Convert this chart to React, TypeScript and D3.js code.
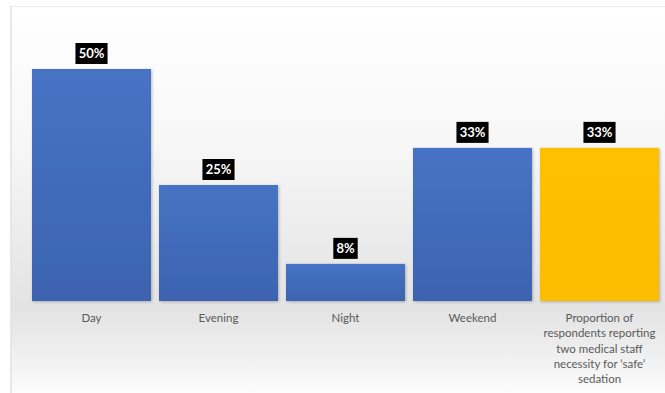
import React from "react";
import * as d3 from "d3";

const categories = [
  "Day",
  "Evening",
  "Night",
  "Weekend",
  "Proportion of respondents reporting two medical staff necessity for \u2018safe\u2019 sedation",
];
const categoryLines = [
  ["Day"],
  ["Evening"],
  ["Night"],
  ["Weekend"],
  ["Proportion of", "respondents reporting", "two medical staff", "necessity for \u2018safe\u2019", "sedation"],
];
const values = [50, 25, 8, 33, 33];
const labels = ["50%", "25%", "8%", "33%", "33%"];
const highlight = [false, false, false, false, true];

const W = 665;
const H = 393;

export default function App() {
  const x = d3.scaleBand<string>().domain(categories).range([32, 659]).paddingInner(0.063).paddingOuter(0);
  const y = d3.scaleLinear().domain([0, 50]).range([301, 69]);

  return (
    <svg width={W} height={H} style={{ position: "absolute", left: 0, top: 0 }} fontFamily="Lato, 'Open Sans', sans-serif">
      <defs>
        <linearGradient id="bg" x1="0" y1="0" x2="0" y2="1">
          <stop offset="0" stopColor="#ffffff" />
          <stop offset="0.35" stopColor="#f7f7f7" />
          <stop offset="0.78" stopColor="#e3e3e3" />
          <stop offset="0.88" stopColor="#ededed" />
          <stop offset="1" stopColor="#fcfcfc" />
        </linearGradient>
        <linearGradient id="blue" x1="0" y1="0" x2="0" y2="1">
          <stop offset="0" stopColor="#4773c4" />
          <stop offset="1" stopColor="#3c63b0" />
        </linearGradient>
        <linearGradient id="yellow" x1="0" y1="0" x2="0" y2="1">
          <stop offset="0" stopColor="#ffc000" />
          <stop offset="1" stopColor="#fcbc00" />
        </linearGradient>
        <filter id="shadow" x="-10%" y="-10%" width="120%" height="120%">
          <feDropShadow dx="1" dy="1" stdDeviation="1.5" floodColor="#000" floodOpacity="0.25" />
        </filter>
      </defs>
      <rect x={0} y={0} width={W} height={H} fill="#ffffff" />
      <rect x={11} y={6} width={W - 11} height={H - 6} fill="url(#bg)" />
      <line x1={11} y1={6} x2={11} y2={H} stroke="#e2e2e2" strokeWidth={1.5} />
      <line x1={11} y1={6.5} x2={W} y2={6.5} stroke="#ececec" strokeWidth={1} />
      {categories.map((c, i) => {
        const bx = x(c)!;
        const bw = x.bandwidth();
        const top = y(values[i]);
        const cx = bx + bw / 2;
        const boxW = labels[i].length * 7.7 + 9;
        return (
          <g key={c}>
            <rect
              x={bx}
              y={top}
              width={bw}
              height={y(0) - top}
              fill={highlight[i] ? "url(#yellow)" : "url(#blue)"}
              filter="url(#shadow)"
            />
            <rect x={cx - boxW / 2} y={top - 26} width={boxW} height={21} fill="#000" />
            <text x={cx} y={top - 11} textAnchor="middle" fill="#fff" fontSize={13} fontWeight="bold">
              {labels[i]}
            </text>
            {categoryLines[i].map((ln, j) => (
              <text key={j} x={cx} y={322 + j * 15.3} textAnchor="middle" fill="#595959" fontSize={11.5}>
                {ln}
              </text>
            ))}
          </g>
        );
      })}
    </svg>
  );
}
